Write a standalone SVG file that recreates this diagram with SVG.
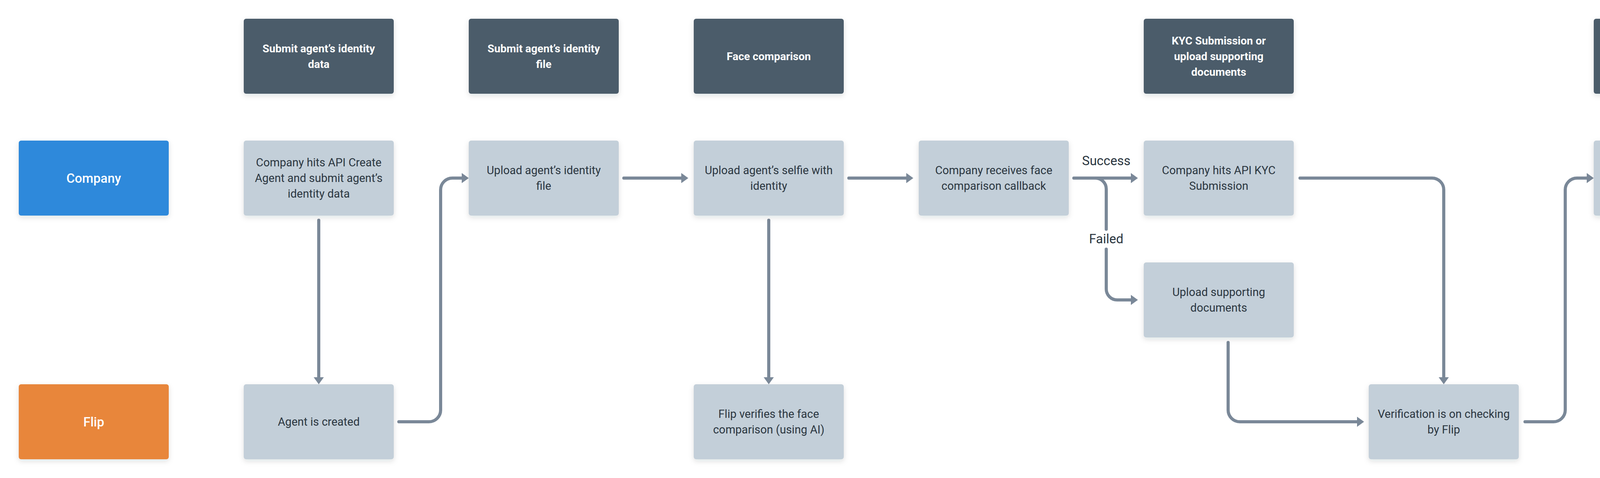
<svg xmlns="http://www.w3.org/2000/svg" width="5088" height="1224" viewBox="0 0 5088 1224">
<defs>
<filter id="sh" x="-10%" y="-10%" width="120%" height="130%">
<feDropShadow dx="0" dy="5" stdDeviation="7" flood-color="#1c2a38" flood-opacity="0.13"/>
</filter>
<marker id="ah" markerUnits="userSpaceOnUse" markerWidth="20" markerHeight="28" refX="8" refY="13" orient="auto">
<path d="M0,0 L18,13 L0,26 z" fill="#7a8898"/>
</marker>
<style>
.hd{fill:#4b5c6b;filter:url(#sh)}
.nd{fill:#c3cfd9;filter:url(#sh)}
.co{fill:#2e89db;filter:url(#sh)}
.fl{fill:#e8863b;filter:url(#sh)}
text{font-family:Roboto,"Liberation Sans",sans-serif;text-anchor:middle;dominant-baseline:central}
.ht{fill:#ffffff;font-size:28px;font-weight:700}
.nt{fill:#2b3640;font-size:29px}
.lt{fill:#ffffff;font-size:33px;font-weight:500}
.et{fill:#2b3640;font-size:33px}
.cn{fill:none;stroke:#7a8898;stroke-width:8;stroke-linecap:round;stroke-linejoin:round}
.ar{marker-end:url(#ah)}
</style>
</defs>
<rect width="5088" height="1224" fill="#ffffff"/>

<g id="connectors">
<path class="cn ar" d="M816,564 V974"/>
<path class="cn ar" d="M1021,1080 H1098 A30,30 0 0 0 1128,1050 V486 A30,30 0 0 1 1158,456 H1190"/>
<path class="cn ar" d="M1597,456 H1752"/>
<path class="cn ar" d="M1968,564 V974"/>
<path class="cn ar" d="M2173,456 H2328"/>
<path class="cn ar" d="M2749,456 H2903"/>
<path class="cn" d="M2804,456 A28,28 0 0 1 2832,484 V587"/>
<path class="cn ar" d="M2832,638 V740 A28,28 0 0 0 2860,768 H2903"/>
<path class="cn ar" d="M3328,456 H3666 A30,30 0 0 1 3696,486 V974"/>
<path class="cn ar" d="M3144,877 V1050 A30,30 0 0 0 3174,1080 H3482"/>
<path class="cn ar" d="M3904,1080 H3977 A30,30 0 0 0 4007,1050 V486 A30,30 0 0 1 4037,456 H4070"/>
<path class="cn ar" d="M4478,456 H4632"/>
<path class="cn" d="M4532,456 A28,28 0 0 1 4560,484 V585"/>
<path class="cn ar" d="M4560,637 V740 A28,28 0 0 0 4588,768 H4632"/>
<text class="et" x="2832" y="411">Success</text>
<text class="et" x="2832" y="611">Failed</text>
<text class="et" x="4560" y="411">Approved</text>
<text class="et" x="4560" y="611">Rejected</text>
</g>

<g id="h1"><rect class="hd" x="624" y="48" width="384" height="192" rx="6"/><text class="ht" x="816" y="124">Submit agent’s identity</text><text class="ht" x="816" y="164">data</text></g>
<g id="h2"><rect class="hd" x="1200" y="48" width="384" height="192" rx="6"/><text class="ht" x="1392" y="124">Submit agent’s identity</text><text class="ht" x="1392" y="164">file</text></g>
<g id="h3"><rect class="hd" x="1776" y="48" width="384" height="192" rx="6"/><text class="ht" x="1968" y="144">Face comparison</text></g>
<g id="h5"><rect class="hd" x="2928" y="48" width="384" height="192" rx="6"/><text class="ht" x="3120" y="104">KYC Submission or</text><text class="ht" x="3120" y="144">upload supporting</text><text class="ht" x="3120" y="184">documents</text></g>
<g id="h7"><rect class="hd" x="4080" y="48" width="384" height="192" rx="6"/><text class="ht" x="4272" y="144">KYC is completed</text></g>

<g id="company"><rect class="co" x="48" y="360" width="384" height="192" rx="6"/><text class="lt" x="240" y="456">Company</text></g>
<g id="flip"><rect class="fl" x="48" y="984" width="384" height="192" rx="6"/><text class="lt" x="240" y="1080">Flip</text></g>

<g id="n-create-api"><rect class="nd" x="624" y="360" width="384" height="192" rx="6"/><text class="nt" x="816" y="416">Company hits API Create</text><text class="nt" x="816" y="456">Agent and submit agent’s</text><text class="nt" x="816" y="496">identity data</text></g>
<g id="n-upload-id"><rect class="nd" x="1200" y="360" width="384" height="192" rx="6"/><text class="nt" x="1392" y="436">Upload agent’s identity</text><text class="nt" x="1392" y="476">file</text></g>
<g id="n-selfie"><rect class="nd" x="1776" y="360" width="384" height="192" rx="6"/><text class="nt" x="1968" y="436">Upload agent’s selfie with</text><text class="nt" x="1968" y="476">identity</text></g>
<g id="n-face-cb"><rect class="nd" x="2352" y="360" width="384" height="192" rx="6"/><text class="nt" x="2544" y="436">Company receives face</text><text class="nt" x="2544" y="476">comparison callback</text></g>
<g id="n-kyc-api"><rect class="nd" x="2928" y="360" width="384" height="192" rx="6"/><text class="nt" x="3120" y="436">Company hits API KYC</text><text class="nt" x="3120" y="476">Submission</text></g>
<g id="n-kyc-cb"><rect class="nd" x="4080" y="360" width="384" height="192" rx="6"/><text class="nt" x="4272" y="436">Company receives KYC</text><text class="nt" x="4272" y="476">status callback</text></g>
<g id="n-disburse"><rect class="nd" x="4656" y="360" width="384" height="192" rx="6"/><text class="nt" x="4848" y="416">Company can request</text><text class="nt" x="4848" y="456">disbursement for this</text><text class="nt" x="4848" y="496">agent ID</text></g>
<g id="n-upload-docs"><rect class="nd" x="2928" y="672" width="384" height="192" rx="6"/><text class="nt" x="3120" y="748">Upload supporting</text><text class="nt" x="3120" y="788">documents</text></g>
<g id="n-repair"><rect class="nd" x="4656" y="672" width="384" height="192" rx="6"/><text class="nt" x="4848" y="748">Company can repair the</text><text class="nt" x="4848" y="788">data</text></g>
<g id="n-agent-created"><rect class="nd" x="624" y="984" width="384" height="192" rx="6"/><text class="nt" x="816" y="1080">Agent is created</text></g>
<g id="n-flip-verify"><rect class="nd" x="1776" y="984" width="384" height="192" rx="6"/><text class="nt" x="1968" y="1060">Flip verifies the face</text><text class="nt" x="1968" y="1100">comparison (using AI)</text></g>
<g id="n-verification"><rect class="nd" x="3504" y="984" width="384" height="192" rx="6"/><text class="nt" x="3696" y="1060">Verification is on checking</text><text class="nt" x="3696" y="1100">by Flip</text></g>
</svg>
